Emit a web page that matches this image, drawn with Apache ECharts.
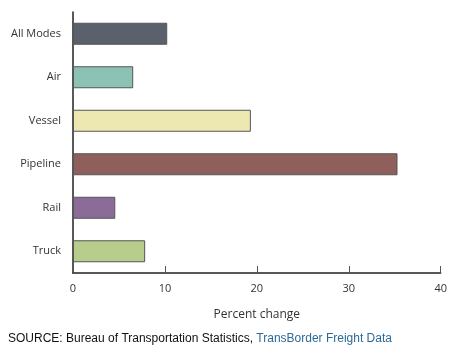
<!DOCTYPE html>
<html>
<head>
<meta charset="utf-8">
<script src="https://cdn.jsdelivr.net/npm/echarts@6/dist/echarts.min.js"></script>
<style>html,body{margin:0;padding:0;background:#fff}#c{width:450px;height:357px}</style>
</head>
<body>
<div id="c"></div>
<script>
const categories = ['All Modes', 'Air', 'Vessel', 'Pipeline', 'Rail', 'Truck'];
const values = [10.25, 6.55, 19.35, 35.3, 4.6, 7.85];
const barColors = ['#5b616c', '#8cc2b4', '#ede8b2', '#8f5f5c', '#8b6b98', '#b8cc8b'];
const xTicks = [0, 10, 20, 30, 40];

const chart = echarts.init(document.getElementById('c'));
chart.setOption({
  animation: false,
  backgroundColor: '#fff',
  grid: { left: 73, right: 9, top: 12, bottom: 84, containLabel: false },
  xAxis: {
    type: 'value', min: xTicks[0], max: xTicks[xTicks.length - 1], interval: 10,
    name: 'Percent change', nameLocation: 'middle', nameGap: 36,
    nameTextStyle: { fontFamily: 'Open Sans', fontSize: 12, color: '#333' },
    axisLine: { show: true, lineStyle: { color: '#222', width: 1.5 } },
    axisTick: { show: true, inside: true, length: 7, lineStyle: { color: '#555' } },
    axisLabel: { fontFamily: 'Open Sans', fontSize: 11, color: '#333', margin: 10 },
    splitLine: { show: false }
  },
  yAxis: {
    type: 'category', data: categories, inverse: true,
    axisLine: { show: true, lineStyle: { color: '#222', width: 1.5 } },
    axisTick: { show: false },
    axisLabel: { fontFamily: 'Open Sans', fontSize: 11, color: '#333', margin: 12 }
  },
  series: [{
    type: 'bar', barWidth: 22,
    data: values.map((v, i) => ({ value: v, itemStyle: { color: barColors[i] } })),
    itemStyle: { borderColor: '#555', borderWidth: 1 }
  }],
  graphic: [{
    type: 'text', left: 8, top: 333,
    style: {
      text: '{a|SOURCE: Bureau of Transportation Statistics, }{b|TransBorder Freight Data}',
      rich: {
        a: { fontFamily: 'Liberation Sans', fontSize: 12, fill: '#111' },
        b: { fontFamily: 'Liberation Sans', fontSize: 12, fill: '#2b6a9a' }
      }
    }
  }]
});
</script>
</body>
</html>
